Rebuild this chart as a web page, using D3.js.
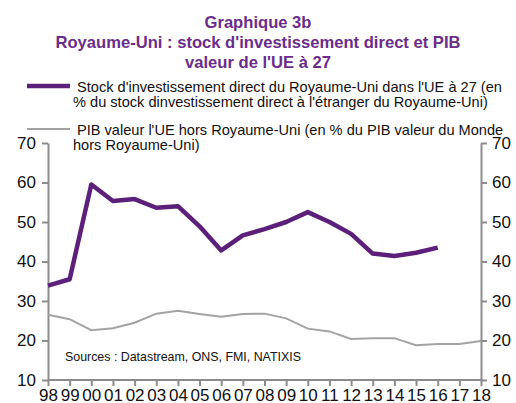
<!DOCTYPE html>
<html>
<head>
<meta charset="utf-8">
<script src="https://cdn.jsdelivr.net/npm/d3@7"></script>
<style>
  body { margin: 0; background: #fff; }
  svg text { font-family: "Liberation Sans", Arial, sans-serif; }
</style>
</head>
<body>
<div id="chart"></div>
<script>
var years = ["98","99","00","01","02","03","04","05","06","07","08","09","10","11","12","13","14","15","16","17","18"];
var stockIDE = [33.9,35.5,59.5,55.3,55.8,53.6,54,48.9,42.8,46.6,48.2,50,52.5,50,47,42,41.4,42.2,43.5,null,null];
var pibUE = [26.5,25.4,22.6,23.1,24.5,26.8,27.5,26.7,26,26.7,26.8,25.6,23,22.3,20.4,20.6,20.6,18.8,19.1,19.1,19.9];
var yTicks = [10,20,30,40,50,60,70];
var titleLines = ["Graphique 3b", "Royaume-Uni : stock d'investissement direct et PIB", "valeur de l'UE à 27"];
var legend1 = ["Stock d'investissement direct du Royaume-Uni dans l'UE à 27 (en", "% du stock dinvestissement direct à l'étranger du Royaume-Uni)"];
var legend2 = ["PIB valeur l'UE hors Royaume-Uni (en % du PIB valeur du Monde", "hors Royaume-Uni)"];

var width = 516, height = 403;
var plotLeft = 48, plotRight = 481, plotTop = 143, plotBottom = 380;
var axisColor = "#8c8c8c";

var svg = d3.select("#chart").append("svg")
  .attr("width", width)
  .attr("height", height);

var x = d3.scalePoint()
  .domain(years)
  .range([plotLeft, plotRight]);

var y = d3.scaleLinear()
  .domain([10, 70])
  .range([plotBottom, plotTop]);

// title
svg.append("g").selectAll("text")
  .data(titleLines)
  .enter().append("text")
  .attr("x", 258)
  .attr("y", function (d, i) { return 28 + i * 20; })
  .attr("text-anchor", "middle")
  .style("font-size", "16.6px")
  .style("font-weight", "bold")
  .style("fill", "#6a2d8a")
  .text(function (d) { return d; });

// axes
function styleAxis(g) {
  g.selectAll("path, line").attr("stroke", axisColor).attr("stroke-width", 2);
  g.selectAll("text").style("font-size", "17px").style("fill", "#111");
}

svg.append("g")
  .attr("transform", "translate(" + plotLeft + ",0)")
  .call(d3.axisLeft(y).tickValues(yTicks).tickSize(6).tickSizeOuter(0).tickPadding(6))
  .call(styleAxis)
  .attr("font-family", null);

svg.append("g")
  .attr("transform", "translate(" + plotRight + ",0)")
  .call(d3.axisRight(y).tickValues(yTicks).tickSize(6).tickSizeOuter(0).tickPadding(5))
  .call(styleAxis)
  .attr("font-family", null);

svg.append("g")
  .attr("transform", "translate(0," + plotBottom + ")")
  .call(d3.axisBottom(x).tickSize(6).tickSizeOuter(0).tickPadding(3))
  .call(styleAxis)
  .call(function (g) { g.select(".domain").attr("d", "M" + plotLeft + ",0H" + plotRight); })
  .attr("font-family", null);

// lines
var line = d3.line()
  .defined(function (d) { return d != null; })
  .x(function (d, i) { return x(years[i]); })
  .y(function (d) { return y(d); });

svg.append("path")
  .datum(pibUE)
  .attr("d", line)
  .attr("fill", "none")
  .attr("stroke", "#a3a3a3")
  .attr("stroke-width", 2);

svg.append("path")
  .datum(stockIDE)
  .attr("d", line)
  .attr("fill", "none")
  .attr("stroke", "#5c1f7a")
  .attr("stroke-width", 4.5)
  .attr("stroke-linejoin", "round");

// legend
var legend = [
  { lines: legend1, color: "#5c1f7a", w: 4.5, y: 86 },
  { lines: legend2, color: "#a3a3a3", w: 2, y: 129 }
];

var lg = svg.append("g").selectAll("g")
  .data(legend)
  .enter().append("g");

lg.append("line")
  .attr("x1", 27).attr("x2", 70)
  .attr("y1", function (d) { return d.y; })
  .attr("y2", function (d) { return d.y; })
  .attr("stroke", function (d) { return d.color; })
  .attr("stroke-width", function (d) { return d.w; });

lg.each(function (d) {
  d3.select(this).selectAll("text")
    .data(d.lines)
    .enter().append("text")
    .attr("x", function (t, i) { return i === 0 ? 77 : 73; })
    .attr("y", function (t, i) { return d.y + 6 + i * 15; })
    .style("font-size", "14.6px")
    .style("fill", "#111")
    .text(function (t) { return t; });
});

// sources
svg.append("text")
  .attr("x", 65)
  .attr("y", 361)
  .style("font-size", "12.4px")
  .style("fill", "#111")
  .text("Sources : Datastream, ONS, FMI,  NATIXIS");
</script>
</body>
</html>
